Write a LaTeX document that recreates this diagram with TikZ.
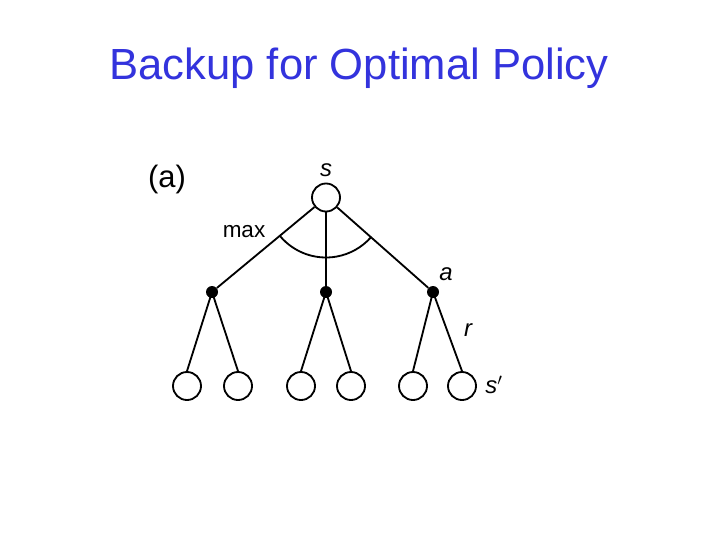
\documentclass[tikz,border=0pt]{standalone}
\usepackage{fontspec}
\setmainfont{Liberation Sans}
\usetikzlibrary{positioning}
\definecolor{titleblue}{RGB}{51,51,221}
\tikzset{state/.style={draw,circle,line width=1.3pt,minimum size=0.7cm,inner sep=0pt,fill=white}}
\tikzset{act/.style={fill,circle,minimum size=0.3cm,inner sep=0pt}}
\tikzset{lbl/.style={inner sep=0pt,font=\fontsize{16}{18}\selectfont}}
\tikzset{ed/.style={line width=1.3pt}}

\begin{document}
\begin{tikzpicture}[x=0.025cm,y=-0.025cm]
\useasboundingbox[fill=white] (0,0) rectangle (720,540);

\node[anchor=base,text=titleblue,font=\fontsize{31}{36}\selectfont] (title) at (359,79) {Backup for Optimal Policy};

\node[state] (s) at (326,197.5) {};
\node[act] (a1) at (212,292) {};
\node[act] (a2) at (326,292) {};
\node[act] (a3) at (433,292) {};

\node[state] (s1) at (187,386) {};
\node[state] (s2) at (238,386) {};
\node[state] (s3) at (301,386) {};
\node[state] (s4) at (351,386) {};
\node[state] (s5) at (413,386) {};
\node[state] (s6) at (462,386) {};

\node[lbl,font=\fontsize{22}{24}\selectfont] (fig) at (167,179) {(a)};
\node[lbl,font=\fontsize{17}{18}\selectfont\itshape] (slbl) at (326,170) {s};
\node[lbl] (maxlbl) at (244,232) {max};
\node[lbl,font=\fontsize{17}{18}\selectfont\itshape] (albl) at (446,274) {a};
\node[lbl,font=\fontsize{17}{18}\selectfont\itshape] (rlbl) at (468,330) {r};
\node[lbl,font=\fontsize{17}{18}\selectfont\itshape] (s'lbl) at (494,385) {s$'$};

\draw[ed] (s) -- (a1);
\draw[ed] (s) -- (a2);
\draw[ed] (s) -- (a3);
\draw[ed] (s.center) ++(140:60) arc[start angle=140,end angle=41.5,radius=60];

\draw[ed] (a1.center) -- (s1.north);
\draw[ed] (a1.center) -- (s2.north);
\draw[ed] (a2.center) -- (s3.north);
\draw[ed] (a2.center) -- (s4.north);
\draw[ed] (a3.center) -- (s5.north);
\draw[ed] (a3.center) -- (s6.north);
\end{tikzpicture}
\end{document}
